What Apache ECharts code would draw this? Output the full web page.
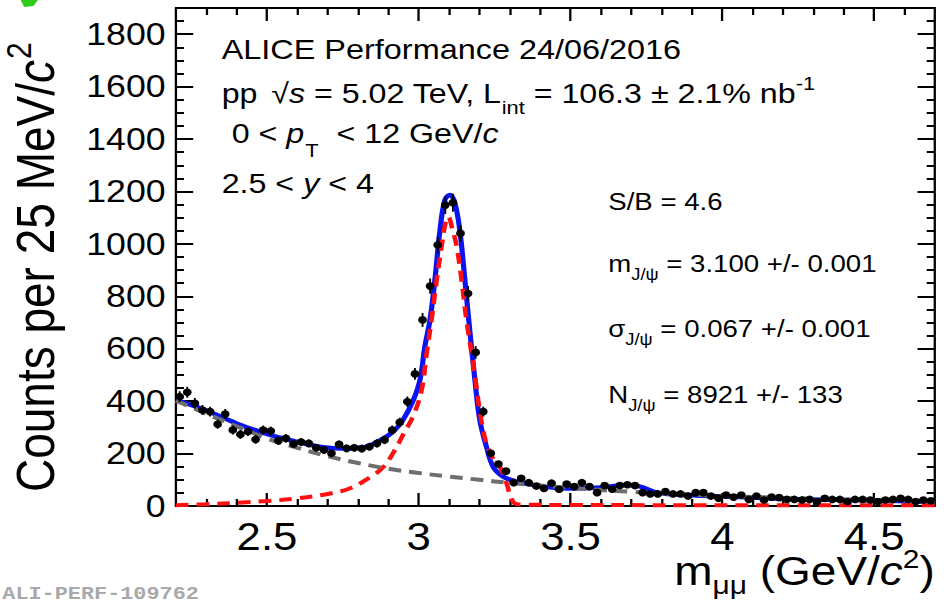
<!DOCTYPE html>
<html>
<head>
<meta charset="utf-8">
<script src="https://cdn.jsdelivr.net/npm/echarts@6/dist/echarts.min.js"></script>
<style>
  html, body { margin: 0; padding: 0; background: #fff; overflow: hidden; }
  #wrap { width: 944px; height: 604px; overflow: hidden; }
  /* the canvas is laid out narrower and stretched horizontally */
  #chart { width: 821px; height: 604px; transform: scaleX(1.1498); transform-origin: 0 0; }
</style>
</head>
<body>
<div id="wrap"><div id="chart"></div></div>
<script>
// Dimuon invariant-mass histogram, 25 MeV bins from 2.2 to 4.7 GeV/c^2
const BIN_LOW = 2.2;
const BIN_WIDTH = 0.025;
const counts = [
  417, 434, 392, 366, 360, 312, 351, 290, 273, 284,
  254, 290, 286, 249, 258, 237, 244, 239, 222, 214,
  201, 235, 220, 222, 219, 226, 239, 252, 290, 319,
  398, 504, 710, 839, 996, 1148, 1157, 1040, 811, 586,
  360, 201, 160, 133, 89, 106, 89, 76, 67, 87,
  64, 84, 74, 89, 74, 51, 78, 64, 78, 81,
  78, 51, 46, 46, 55, 46, 46, 38, 51, 51,
  38, 30, 42, 34, 42, 25, 38, 23, 34, 32,
  25, 25, 23, 25, 17, 29, 25, 25, 17, 25,
  25, 23, 17, 23, 25, 29, 25, 17, 23, 20
];

// Total fit (signal + background)
const totalX = [2.2, 2.29, 2.4, 2.51, 2.62, 2.686, 2.752, 2.818, 2.872, 2.916, 2.949, 2.982, 3.004, 3.02, 3.037, 3.053, 3.07, 3.086, 3.102, 3.118, 3.135, 3.152, 3.168, 3.185, 3.201, 3.223, 3.245, 3.278, 3.322, 3.4, 3.49, 3.6, 3.685, 3.73, 3.79, 3.88, 4.04, 4.25, 4.47, 4.7];
const totalY = [404, 369, 315, 271, 239, 224, 219, 224, 250, 284, 330, 404, 481, 608, 710, 862, 1053, 1167, 1187, 1160, 1053, 862, 671, 481, 328, 226, 150, 112, 93, 76, 67, 71, 80, 74, 50, 42, 35, 26, 22, 15];

// J/psi signal shape
const signalX = [2.2, 2.3, 2.4, 2.5, 2.6, 2.7, 2.77, 2.84, 2.884, 2.917, 2.95, 2.982, 3.009, 3.026, 3.042, 3.059, 3.075, 3.088, 3.097, 3.11, 3.125, 3.141, 3.157, 3.174, 3.19, 3.2, 3.22, 3.245, 3.267, 3.289, 3.306, 3.32, 3.35, 3.5, 4.0, 4.7];
const signalY = [3, 7, 12, 19, 29, 46, 66, 110, 150, 205, 275, 345, 440, 583, 710, 862, 989, 1080, 1104, 1060, 989, 862, 710, 583, 455, 370, 250, 180, 150, 87, 26, 8, 5, 4, 3, 3];

// Background shape
const bkgX = [2.2, 2.3, 2.4, 2.5, 2.6, 2.7, 2.8, 2.9, 3.0, 3.1, 3.2, 3.3, 3.4, 3.5, 3.6, 3.7, 3.8, 3.9, 4.0, 4.2, 4.4, 4.6, 4.7];
const bkgY = [402, 352, 304, 258, 222, 190, 164, 142, 126, 112, 100, 88, 78, 69, 61, 54, 48, 43, 38, 31, 25, 20, 18];

// Axis ticks
const MAJOR_X = [2.5, 3, 3.5, 4, 4.5];
const MINOR_X = [2.3, 2.4, 2.6, 2.7, 2.8, 2.9, 3.1, 3.2, 3.3, 3.4, 3.6, 3.7, 3.8, 3.9, 4.1, 4.2, 4.3, 4.4, 4.6];
const MAJOR_Y = [0, 200, 400, 600, 800, 1000, 1200, 1400, 1600, 1800];
const MINOR_Y = [50, 100, 150, 250, 300, 350, 450, 500, 550, 650, 700, 750, 850, 900, 950, 1050, 1100, 1150, 1250, 1300, 1350, 1450, 1500, 1550, 1650, 1700, 1750, 1850];

const X_MIN = 2.2, X_MAX = 4.7, Y_MIN = 0, Y_MAX = 1900;
const FONT = '"Liberation Sans", Arial, Helvetica, sans-serif';

const binCenters = counts.map((_, i) => BIN_LOW + (i + 0.5) * BIN_WIDTH);
const pts = counts.map((c, i) => [binCenters[i], c]);
const zip = (xs, ys) => xs.map((x, i) => [x, ys[i]]);

// text layout: pieces [text, size, italic, dy, dx] laid out on a common baseline
const mctx = document.createElement('canvas').getContext('2d');
function fontCss(size, italic) {
  return (italic ? 'italic ' : '') + size + 'px ' + FONT;
}
function textWidth(t, size, italic) {
  mctx.font = fontCss(size, italic);
  return mctx.measureText(t).width;
}
function textRun(x0, base, pieces) {
  let x = x0;
  const out = [];
  pieces.forEach(p => {
    const [t, size, italic, dy, dx] = p;
    x += dx || 0;
    out.push({
      type: 'text',
      x: x,
      y: base + (dy || 0) - 0.3465 * size,
      silent: true,
      style: {
        text: t, fill: '#000', fontSize: size, fontFamily: FONT,
        fontStyle: italic ? 'italic' : 'normal',
        align: 'left', verticalAlign: 'middle'
      }
    });
    x += textWidth(t, size, italic);
  });
  return out;
}

const graphics = [];
// top-left legend block
graphics.push(...textRun(192.8, 58.3, [['ALICE Performance 24/06/2016', 28.2]]));
graphics.push(...textRun(192.8, 102.7, [
  ['pp', 28], ['\u221A', 28, false, 0, 12], ['s', 28, true], [' = 5.02 TeV, L', 28],
  ['int', 19, false, 11], [' = 106.3 \u00B1 2.1% nb', 28], ['-1', 19, false, -13]
]));
graphics.push(...textRun(201.5, 143.3, [
  ['0 < ', 28], ['p', 28, true], ['T', 19, false, 13, 1], ['  < 12 GeV/', 28], ['c', 28, true]
]));
graphics.push(...textRun(192.8, 193.3, [['2.5 < ', 28], ['y', 28, true], [' < 4', 28]]));

// fit results
graphics.push(...textRun(529, 210, [['S/B = 4.6', 24]]));
graphics.push(...textRun(529, 271.7, [['m', 24], ['J/\u03C8', 16, false, 8], [' = 3.100 +/- 0.001', 24]]));
graphics.push(...textRun(529, 336.7, [['\u03C3', 24], ['J/\u03C8', 16, false, 8], [' = 0.067 +/- 0.001', 24]]));
graphics.push(...textRun(529, 403.3, [['N', 24], ['J/\u03C8', 16, false, 8], [' = 8921 +/- 133', 24]]));

// x-axis title as one rich text, right-aligned to the frame (baseline at 585)
graphics.push({
  type: 'text', x: 813, y: 585 - 0.3465 * 40 - 20, silent: true,
  style: {
    text: 'm{sub|\u03BC\u03BC} (GeV/{it|c}{sup|2})',
    fill: '#000', fontSize: 40, fontFamily: FONT, lineHeight: 40,
    align: 'right', verticalAlign: 'top',
    rich: {
      sub: { fontSize: 26, fontFamily: FONT, lineHeight: 12, height: 12, verticalAlign: 'bottom', fill: '#000' },
      it: { fontSize: 40, fontFamily: FONT, fontStyle: 'italic', lineHeight: 40, fill: '#000' },
      sup: { fontSize: 26, fontFamily: FONT, lineHeight: 16, height: 16, verticalAlign: 'top', fill: '#000' }
    }
  }
});

// y-axis title, rotated
const yTitle = [['Counts per 25 MeV/', 46], ['c', 46, true], ['2', 30, false, -20, 1]];
graphics.push({
  type: 'group', x: 47, y: 492, rotation: Math.PI / 2,
  children: textRun(0, 0, yTitle)
});

// figure id
graphics.push({
  type: 'text', x: 2, y: 600 - 0.3465 * 19, silent: true,
  style: {
    text: 'ALI-PERF-109762', fill: '#a9a9a9', fontSize: 19, fontWeight: 'bold',
    fontFamily: '"Liberation Mono", "DejaVu Sans Mono", monospace',
    align: 'left', verticalAlign: 'middle'
  }
});
// green corner mark
graphics.push({
  type: 'polygon', silent: true,
  shape: { points: [[18, 0], [33, 0], [29, 6], [21, 7]] },
  style: { fill: '#2ecc1a' }
});

function xAxisDef(pos, ticks, len, withLine, withLabels) {
  return {
    type: 'value', min: X_MIN, max: X_MAX, position: pos,
    axisLine: { show: withLine, onZero: false, lineStyle: { color: '#000', width: 2 } },
    axisTick: { show: true, inside: true, length: len, customValues: ticks, lineStyle: { color: '#000', width: 2 } },
    axisLabel: withLabels ? {
      show: true, customValues: ticks, color: '#000', fontSize: 38, fontFamily: FONT, margin: 12,
      formatter: v => String(v)
    } : { show: false },
    splitLine: { show: false }
  };
}
function yAxisDef(pos, ticks, len, withLine, withLabels) {
  return {
    type: 'value', min: Y_MIN, max: Y_MAX, position: pos,
    axisLine: { show: withLine, onZero: false, lineStyle: { color: '#000', width: 2 } },
    axisTick: { show: true, inside: true, length: len, customValues: ticks, lineStyle: { color: '#000', width: 2 } },
    axisLabel: withLabels ? {
      show: true, customValues: ticks, color: '#000', fontSize: 31, fontFamily: FONT, margin: 9,
      formatter: v => String(v)
    } : { show: false },
    splitLine: { show: false }
  };
}

const chart = echarts.init(document.getElementById('chart'), null, { renderer: 'svg' });
chart.setOption({
  animation: false,
  backgroundColor: '#fff',
  grid: { left: 153, right: 8, top: 8, bottom: 98, containLabel: false },
  xAxis: [
    xAxisDef('bottom', MAJOR_X, 13, true, true),
    xAxisDef('bottom', MINOR_X, 7, false, false),
    xAxisDef('top', MAJOR_X, 13, true, false),
    xAxisDef('top', MINOR_X, 7, false, false)
  ],
  yAxis: [
    yAxisDef('left', MAJOR_Y, 15, true, true),
    yAxisDef('left', MINOR_Y, 7, false, false),
    yAxisDef('right', MAJOR_Y, 15, true, false),
    yAxisDef('right', MINOR_Y, 7, false, false)
  ],
  graphic: { elements: graphics },
  series: [
    {
      name: 'Total fit', type: 'line', data: zip(totalX, totalY), smooth: 0.4,
      symbol: 'none', clip: true, z: 3,
      lineStyle: { color: '#0a14f0', width: 4.5 }
    },
    {
      name: 'Signal', type: 'line', data: zip(signalX, signalY), smooth: 0.4,
      symbol: 'none', clip: true, z: 4,
      lineStyle: { color: '#ff1010', width: 4, type: [11, 7] }
    },
    {
      name: 'Background', type: 'line', data: zip(bkgX, bkgY), smooth: 0.4,
      symbol: 'none', clip: true, z: 4,
      lineStyle: { color: '#6e6e6e', width: 4, type: [11, 7] }
    },
    {
      name: 'Data', type: 'custom', z: 5, clip: true,
      data: pts,
      renderItem: function (params, api) {
        const x = api.value(0), c = api.value(1);
        const e = Math.sqrt(c);
        const p = api.coord([x, c]);
        const lo = api.coord([x, c - e]);
        const hi = api.coord([x, c + e]);
        return {
          type: 'group',
          children: [
            { type: 'line', shape: { x1: p[0], y1: lo[1], x2: p[0], y2: hi[1] }, style: { stroke: '#000', lineWidth: 1.6 } },
            { type: 'circle', shape: { cx: p[0], cy: p[1], r: 3.8 }, style: { fill: '#000' } }
          ]
        };
      }
    }
  ]
});
</script>
</body>
</html>
